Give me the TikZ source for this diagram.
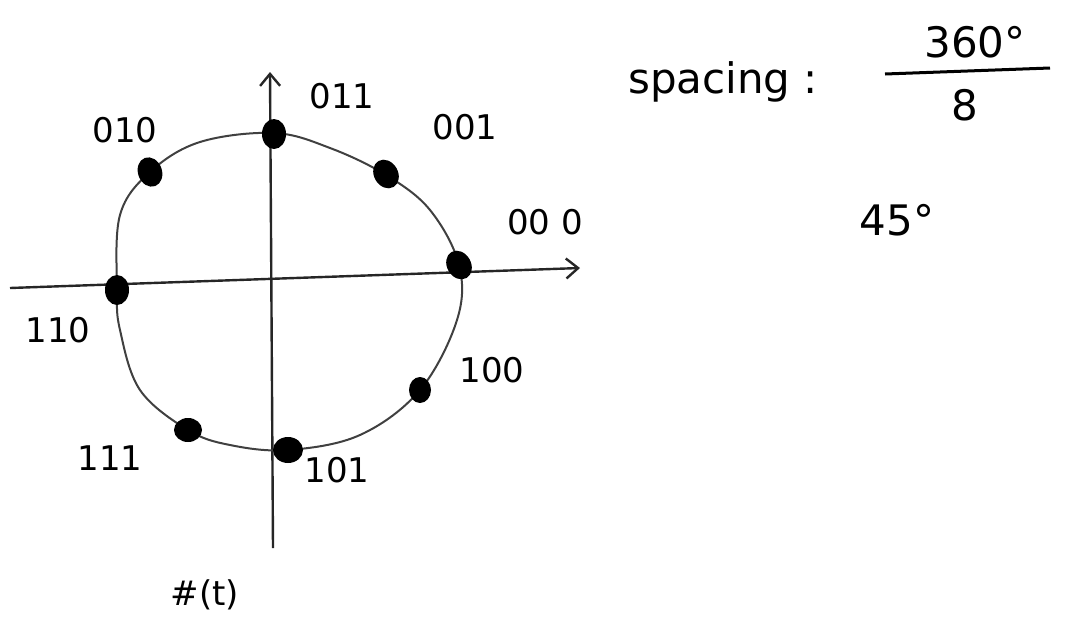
\documentclass[tikz,border=0pt]{standalone}
\usepackage{fontspec}
\setmainfont{DejaVu Sans}
\usetikzlibrary{arrows.meta,shapes.geometric}
\begin{document}
\begin{tikzpicture}[x=1pt,y=-1pt,
  dot/.style={ellipse,fill=black,inner sep=0pt,minimum width=24pt,minimum height=30pt},
  lbl/.style={font=\fontsize{34}{36}\selectfont,inner sep=0pt},
  big/.style={font=\fontsize{42}{44}\selectfont,inner sep=0pt},
  curve/.style={draw=black!75,line width=2pt},
  axis/.style={draw=black!85,line width=2.4pt,-{Straight Barb[length=12pt,width=20pt,line width=2.4pt]}}]
\useasboundingbox (0,0) rectangle (1066,619);
% axes
\coordinate (xl) at (10,288);
\coordinate (xr) at (580,268);
\coordinate (yb) at (273,548);
\coordinate (yt) at (270,72);
\draw[axis] (xl) -- (xr);
\draw[axis] (yb) -- (yt);
% circle
\draw[curve] plot[smooth cycle,tension=0.6] coordinates {
 (274,133) (330,148) (386,175) (430,210) (459,265) (457,320) (420,390)
 (360,435) (288,450) (230,445) (188,430) (140,390) (120,330) (117,290)
 (120,215) (150,172) (200,142)};
% points
\node[dot] (p011) at (274,134) {};
\node[dot,rotate=30] (p001) at (386,174) {};
\node[dot,rotate=30] (p000) at (459,265) {};
\node[dot,minimum width=22pt,minimum height=26pt] (p100) at (420,390) {};
\node[dot,minimum width=30pt,minimum height=26pt] (p101) at (288,450) {};
\node[dot,minimum width=28pt,minimum height=24pt] (p111) at (188,430) {};
\node[dot] (p110) at (117,290) {};
\node[dot,rotate=20] (p010) at (150,172) {};
% labels
\node[lbl] (l010) at (125,130) {010};
\node[lbl] (l011) at (342,96) {011};
\node[lbl] (l001) at (465,127) {001};
\node[lbl] (l000) at (545,222) {00 0};
\node[lbl] (l110) at (58,330) {110};
\node[lbl] (l100) at (492,370) {100};
\node[lbl] (l111) at (110,458) {111};
\node[lbl] (l101) at (337,470) {101};
\node[lbl] (lq) at (205,595) {\#(t)};
% right text
\node[big,anchor=west] (sp) at (628,82) {spacing :};
\coordinate (fa) at (885,74);
\coordinate (fb) at (1050,68);
\draw[line width=3pt] (fa) -- (fb);
\node[big] (num) at (975,42) {360°};
\node[big] (den) at (965,105) {8};
\node[big] (res) at (897,220) {45°};
\end{tikzpicture}
\end{document}
